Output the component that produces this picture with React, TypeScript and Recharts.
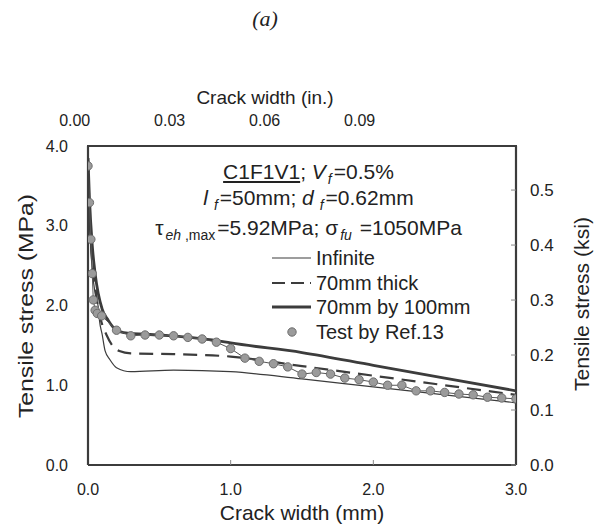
import { ComposedChart, Line, XAxis, YAxis, ReferenceLine } from "recharts";

// crack width (mm) / tensile stress (MPa)
const infiniteX = [0, 0.01, 0.03, 0.05, 0.072, 0.08, 0.1, 0.12, 0.154, 0.2, 0.3, 0.6, 1.0, 1.5, 2.0, 2.5, 3.0];
const infiniteY = [3.85, 3.1, 2.45, 2.15, 1.98, 1.82, 1.63, 1.43, 1.32, 1.22, 1.17, 1.19, 1.17, 1.08, 0.98, 0.88, 0.78];

const thickX = [0, 0.01, 0.03, 0.05, 0.07, 0.09, 0.13, 0.17, 0.22, 0.3, 0.6, 1.0, 1.5, 2.0, 2.5, 3.0];
const thickY = [3.85, 3.2, 2.55, 2.25, 1.98, 1.82, 1.63, 1.5, 1.43, 1.4, 1.39, 1.36, 1.24, 1.12, 1.0, 0.88];

const sectionX = [0, 0.01, 0.03, 0.05, 0.1, 0.14, 0.18, 0.25, 0.5, 0.9, 1.0, 1.5, 2.0, 2.5, 3.0];
const sectionY = [3.85, 3.35, 2.75, 2.4, 1.95, 1.82, 1.72, 1.66, 1.63, 1.56, 1.53, 1.41, 1.25, 1.09, 0.93];

const testX = [
  0, 0.01, 0.02, 0.03, 0.037, 0.05, 0.065, 0.096, 0.2, 0.3, 0.4, 0.5, 0.6, 0.7, 0.8, 0.9, 1.0, 1.1, 1.2,
  1.3, 1.4, 1.5, 1.6, 1.7, 1.8, 1.9, 2.0, 2.1, 2.2, 2.3, 2.4, 2.5, 2.6, 2.7, 2.8, 2.9, 3.0,
];
const testY = [
  3.75, 3.29, 2.83, 2.4, 2.07, 1.94, 1.9, 1.87, 1.69, 1.62, 1.63, 1.63, 1.62, 1.6, 1.58, 1.54, 1.46, 1.34, 1.3,
  1.27, 1.23, 1.14, 1.16, 1.14, 1.09, 1.07, 1.04, 1.0, 1.0, 0.93, 0.93, 0.91, 0.89, 0.88, 0.85, 0.84, 0.83,
];

const mmTicks = [0, 1, 2, 3];
const inchTicks = [0, 0.03, 0.06, 0.09];
const mpaTicks = [0, 1, 2, 3, 4];
const ksiTicks = [0, 0.1, 0.2, 0.3, 0.4, 0.5];

const MM_PER_IN = 25.4;
const MPA_PER_KSI = 6.895;

const toRows = (xs: number[], ys: number[]) => xs.map((x, i) => ({ x, y: ys[i] }));
// same test data in imperial units, only to tie the secondary axes to a series
const testImperial = testX.map((x, i) => ({ xin: x / MM_PER_IN, yk: testY[i] / MPA_PER_KSI }));

const INK = "#3c3c3c";
const FONT = "'Liberation Sans', Arial, sans-serif";

const SERIES = [
  { name: "Infinite", data: toRows(infiniteX, infiniteY), width: 1.2, dash: undefined, dots: false },
  { name: "70mm thick", data: toRows(thickX, thickY), width: 2.2, dash: "14 8", dots: false },
  { name: "70mm by 100mm", data: toRows(sectionX, sectionY), width: 2.8, dash: undefined, dots: false },
  { name: "Test by Ref.13", data: toRows(testX, testY), width: 1, dash: undefined, dots: true },
];

const dotStyle = { r: 4.2, fill: "#9b9b9b", stroke: "#6e6e6e", strokeWidth: 1 };

function LegendBox() {
  return (
    <div
      style={{
        position: "absolute",
        left: 270,
        top: 246,
        fontFamily: FONT,
        fontSize: 20,
        color: "#222",
        lineHeight: "24.5px",
      }}
    >
      {SERIES.map((s) => (
        <div key={s.name} style={{ display: "flex", alignItems: "center", whiteSpace: "nowrap", height: 24.5 }}>
          <svg width={46} height={24}>
            {s.dots ? (
              <circle cx={22} cy={12} r={4.2} fill="#9b9b9b" stroke="#6e6e6e" />
            ) : (
              <line x1={2} x2={41} y1={12} y2={12} stroke={INK} strokeWidth={s.width} strokeDasharray={s.dash ? "13 6" : undefined} />
            )}
          </svg>
          <span>{s.name}</span>
        </div>
      ))}
    </div>
  );
}

const subStyle = { fontSize: 14, position: "relative" as const, top: 5, fontStyle: "italic", margin: "0 2px" };

function Note() {
  const line = (top: number) => ({
    position: "absolute" as const,
    left: 0,
    width: 597,
    top,
    textAlign: "center" as const,
    whiteSpace: "nowrap" as const,
  });
  return (
    <div style={{ position: "absolute", left: 10, top: 0, fontFamily: FONT, fontSize: 21, color: "#222", lineHeight: "24px" }}>
      <div style={line(160)}>
        <span style={{ textDecoration: "underline" }}>C1F1V1</span>; <i>V</i>
        <span style={subStyle}>f</span>=0.5%
      </div>
      <div style={line(186)}>
        <i>l</i>
        <span style={subStyle}>&nbsp;f</span>=50mm; <i>d</i>
        <span style={subStyle}>&nbsp;f</span>=0.62mm
      </div>
      <div style={line(216)}>
        τ<span style={{ ...subStyle, marginRight: 0 }}>eh</span>
        <span style={{ ...subStyle, fontStyle: "normal", marginLeft: 0 }}>&nbsp;,max</span>=5.92MPa; σ
        <span style={subStyle}>fu</span>&nbsp;=1050MPa
      </div>
    </div>
  );
}

export default function App() {
  const tickStyle = { fontFamily: FONT, fontSize: 16, fill: "#222" };
  return (
    <div style={{ position: "absolute", left: 0, top: 0, width: 597, height: 527, background: "#fff", overflow: "hidden" }}>
      <ComposedChart width={597} height={527} margin={{ top: 116, right: 41, bottom: 32, left: 38 }}>
        <XAxis
          xAxisId="mm"
          type="number"
          dataKey="x"
          domain={[0, 3]}
          ticks={mmTicks}
          interval={0}
          allowDataOverflow
          tickFormatter={(v: number) => v.toFixed(1)}
          height={30}
          tick={tickStyle}
          axisLine={{ stroke: INK, strokeWidth: 2.2 }}
          tickLine={{ stroke: "#888" }}
          tickSize={-5}
          tickMargin={24}
        />
        <XAxis
          xAxisId="in"
          orientation="top"
          type="number"
          dataKey="xin"
          domain={[0.0042, 0.1394]}
          ticks={inchTicks}
          interval={0}
          allowDataOverflow
          tickFormatter={(v: number) => v.toFixed(2)}
          height={30}
          tick={{ ...tickStyle, fontSize: 16 }}
          axisLine={{ stroke: INK, strokeWidth: 2.2 }}
          tickLine={false}
          tickSize={0}
          tickMargin={20}
        />
        <YAxis
          yAxisId="mpa"
          type="number"
          domain={[0, 4]}
          ticks={mpaTicks}
          interval={0}
          allowDataOverflow
          tickFormatter={(v: number) => v.toFixed(1)}
          width={50}
          tick={tickStyle}
          axisLine={{ stroke: INK, strokeWidth: 2.2 }}
          tickLine={false}
          tickSize={0}
          tickMargin={20}
        />
        <YAxis
          yAxisId="ksi"
          orientation="right"
          type="number"
          domain={[0, 4 / MPA_PER_KSI]}
          ticks={ksiTicks}
          interval={0}
          allowDataOverflow
          tickFormatter={(v: number) => v.toFixed(1)}
          width={40}
          tick={{ ...tickStyle, fontSize: 17 }}
          axisLine={{ stroke: INK, strokeWidth: 2.2 }}
          tickLine={{ stroke: "#888" }}
          tickSize={-5}
          tickMargin={19}
        />
        <ReferenceLine xAxisId="mm" yAxisId="mpa" y={4} stroke={INK} strokeWidth={2.2} ifOverflow="visible" />
        <Line
          xAxisId="in"
          yAxisId="ksi"
          data={testImperial}
          dataKey="yk"
          stroke="none"
          dot={false}
          activeDot={false}
          legendType="none"
          isAnimationActive={false}
        />
        {SERIES.map((s) => (
          <Line
            key={s.name}
            xAxisId="mm"
            yAxisId="mpa"
            data={s.data}
            dataKey="y"
            name={s.name}
            type={s.dots ? "linear" : "monotone"}
            stroke={s.dots ? "#555" : INK}
            strokeWidth={s.width}
            strokeDasharray={s.dash}
            dot={s.dots ? dotStyle : false}
            activeDot={false}
            isAnimationActive={false}
          />
        ))}
      </ComposedChart>

      <LegendBox />
      <Note />

      {/* plot frame top edge */}
      <div style={{ position: "absolute", left: 87, top: 145, width: 430, height: 0, borderTop: `2px solid ${INK}` }} />

      <svg width={597} height={527} style={{ position: "absolute", left: 0, top: 0, pointerEvents: "none" }}>
        <text x={265} y={26} textAnchor="middle" fontFamily="'Liberation Serif', 'Times New Roman', serif" fontStyle="italic" fontSize={22} fill="#222">
          (a)
        </text>
        <text x={265} y={104} textAnchor="middle" fontFamily={FONT} fontSize={19} fill="#222">
          Crack width (in.)
        </text>
        <text x={302} y={520} textAnchor="middle" fontFamily={FONT} fontSize={21} fill="#222">
          Crack width (mm)
        </text>
        <text
          transform="translate(33,306) rotate(-90)"
          textAnchor="middle"
          fontFamily={FONT}
          fontSize={21}
          fill="#222"
          textLength={224}
          lengthAdjust="spacingAndGlyphs"
        >
          Tensile stress (MPa)
        </text>
        <text
          transform="translate(589,304) rotate(-90)"
          textAnchor="middle"
          fontFamily={FONT}
          fontSize={21}
          fill="#222"
          textLength={174}
          lengthAdjust="spacingAndGlyphs"
        >
          Tensile stress (ksi)
        </text>
      </svg>
    </div>
  );
}
